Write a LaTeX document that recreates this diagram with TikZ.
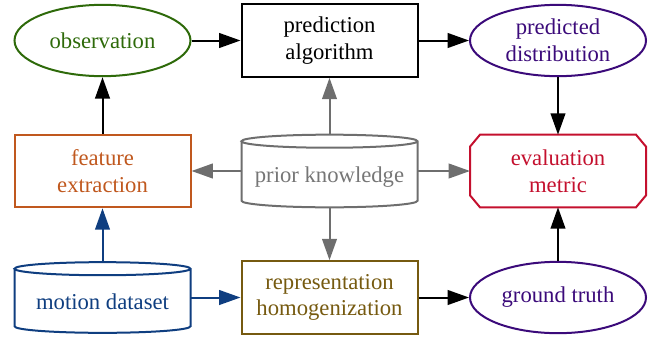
\documentclass[tikz,border=0pt]{standalone}
\usepackage{fontspec}
\setmainfont{Liberation Serif}
\usetikzlibrary{arrows.meta,shapes.geometric,calc}
\definecolor{cgreen}{HTML}{2E6A0A}
\definecolor{cpurple}{HTML}{3B0A7A}
\definecolor{corange}{HTML}{C0581E}
\definecolor{cblue}{HTML}{0F3E80}
\definecolor{cbrown}{HTML}{765A10}
\definecolor{cred}{HTML}{C4102E}
\definecolor{cgray}{HTML}{6E6E6E}
\definecolor{cgraytext}{HTML}{767676}
\begin{document}
\begin{tikzpicture}[x=0.75pt,y=-0.75pt,line width=1.5pt,
  every node/.style={font=\fontsize{17}{20}\selectfont, align=center, inner sep=0pt},
  box/.style={draw, rectangle, minimum width=132pt, minimum height=54.5pt},
  ell/.style={draw, ellipse, minimum width=132pt, minimum height=53.5pt},
  plain/.style={rectangle, outer sep=0pt, minimum width=132pt, minimum height=54.5pt},
  arr/.style={-{Triangle[length=16pt,width=11pt]}},
]
\useasboundingbox (0,0) rectangle (657,336);
% nodes
\node[ell, draw=cgreen, text=cgreen] (obs) at (102.5,40.5) {observation};
\node[box] (alg) at (329.5,40.5) {prediction\\algorithm};
\node[ell, draw=cpurple, text=cpurple] (dist) at (558,40.5) {predicted\\distribution};
\node[box, draw=corange, text=corange] (feat) at (102.5,171) {feature\\extraction};
\node[plain] (prior) at (329.5,171) {};
\node[text=cgraytext] (priortext) at (329.5,177) {prior knowledge};
\node[plain, text=cred] (eval) at (558,171) {evaluation\\metric};
\node[plain, minimum height=53pt] (motion) at (102.5,297.5) {};
\node[text=cblue] (motiontext) at (102.5,302) {motion dataset};
\node[box, draw=cbrown, text=cbrown] (rep) at (329.5,297.5) {representation\\homogenization};
\node[ell, draw=cpurple, text=cpurple] (gt) at (558,297.5) {ground truth};
% cylinder outlines
\draw[cgray] ([yshift=-4.9pt]prior.north west) -- ([yshift=4.9pt]prior.south west)
  arc[start angle=180,end angle=360,x radius=66pt,y radius=4.9pt]
  -- ([yshift=-4.9pt]prior.north east)
  arc[start angle=0,end angle=360,x radius=66pt,y radius=4.9pt];
\draw[cblue] ([yshift=-4.9pt]motion.north west) -- ([yshift=4.9pt]motion.south west)
  arc[start angle=180,end angle=360,x radius=66pt,y radius=4.9pt]
  -- ([yshift=-4.9pt]motion.north east)
  arc[start angle=0,end angle=360,x radius=66pt,y radius=4.9pt];
% octagon outline
\draw[cred] ($(eval.north west)+(7.5pt,0)$) -- ($(eval.north east)+(-7.5pt,0)$)
  -- ($(eval.north east)+(0,-9pt)$) -- ($(eval.south east)+(0,9pt)$)
  -- ($(eval.south east)+(-7.5pt,0)$) -- ($(eval.south west)+(7.5pt,0)$)
  -- ($(eval.south west)+(0,9pt)$) -- ($(eval.north west)+(0,-9pt)$) -- cycle;
% connectors
\draw[arr] (obs) -- (alg);
\draw[arr] (alg) -- (dist);
\draw[arr] (dist) -- (eval);
\draw[arr] (feat) -- (obs);
\draw[arr] (rep) -- (gt);
\draw[arr] (gt) -- (eval);
\draw[arr, cblue] (motion) -- (feat);
\draw[arr, cblue] (motion) -- (rep);
\draw[arr, cgray] (prior) -- (alg);
\draw[arr, cgray] (prior) -- (feat);
\draw[arr, cgray] (prior) -- (eval);
\draw[arr, cgray] (prior) -- (rep);
\end{tikzpicture}
\end{document}
